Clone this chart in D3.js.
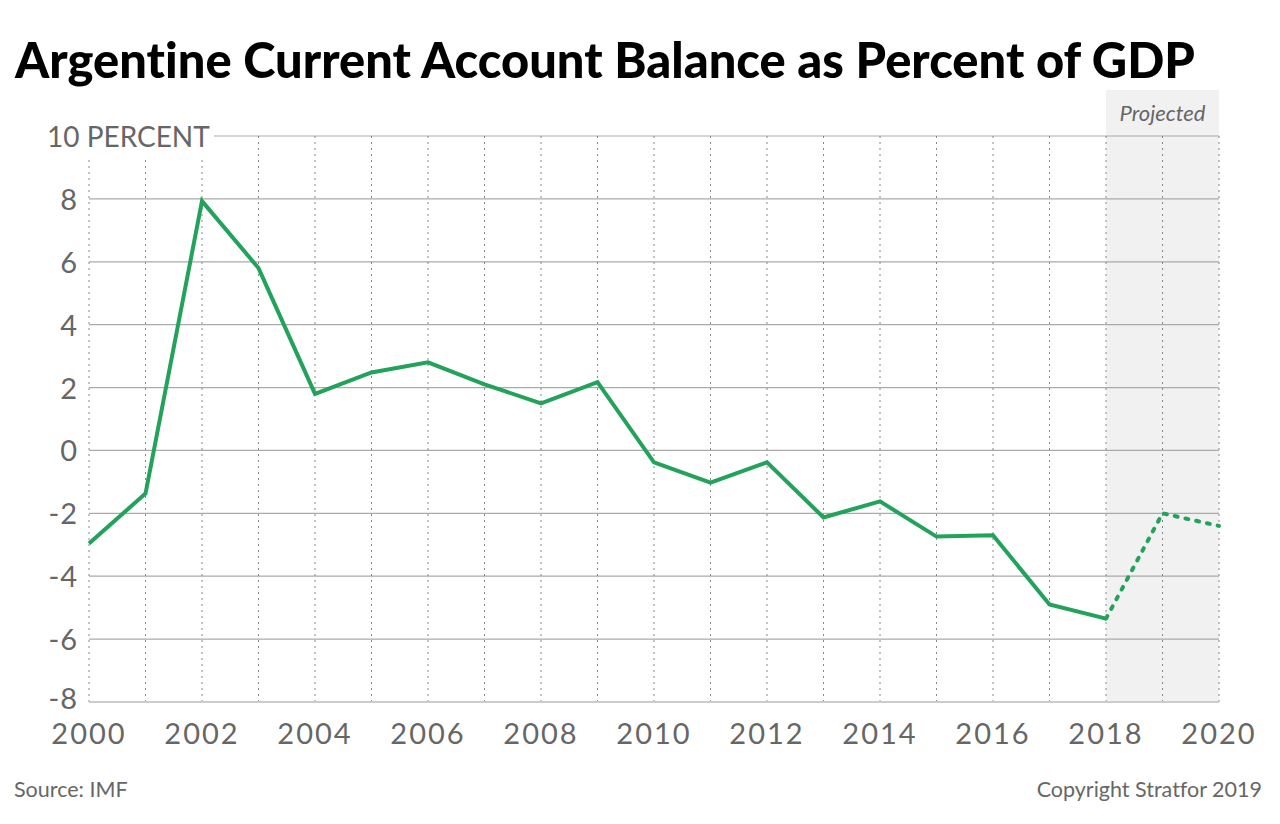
<!DOCTYPE html>
<html>
<head>
<meta charset="utf-8">
<script src="https://cdn.jsdelivr.net/npm/d3@7"></script>
<style>
  body { margin: 0; background: #fff; }
  svg { display: block; font-family: Lato, "Open Sans", sans-serif; font-variant-ligatures: none; }
</style>
</head>
<body>
<script>
// chart data
var years = [2000, 2001, 2002, 2003, 2004, 2005, 2006, 2007, 2008, 2009, 2010,
             2011, 2012, 2013, 2014, 2015, 2016, 2017, 2018, 2019, 2020];
var balance = [-2.96, -1.37, 7.93, 5.8, 1.8, 2.48, 2.8, 2.1, 1.5, 2.17, -0.38,
               -1.02, -0.38, -2.13, -1.62, -2.74, -2.7, -4.9, -5.35, -2.0, -2.4];
var projectedFrom = 2018;
var yTicks = [10, 8, 6, 4, 2, 0, -2, -4, -6, -8];
var xTickLabels = [2000, 2002, 2004, 2006, 2008, 2010, 2012, 2014, 2016, 2018, 2020];

drawChart();

function drawChart(){

    var width = 1280, height = 824;
    var plotLeft = 89, plotRight = 1219, plotTop = 136, plotBottom = 702;

    var svg = d3.select("body").append("svg")
        .attr("width", width)
        .attr("height", height);

    var x = d3.scaleLinear().domain([2000, 2020]).range([plotLeft, plotRight]);
    var y = d3.scaleLinear().domain([-8, 10]).range([plotBottom, plotTop]);

    var rows = years.map(function(yr, i){ return {year: yr, value: balance[i]}; });

    //projected shading
    svg.append("rect")
        .attr("x", x(projectedFrom))
        .attr("y", 90)
        .attr("width", x(2020) - x(projectedFrom))
        .attr("height", plotBottom - 90)
        .attr("fill", "#f1f1f1");

    svg.append("text")
        .attr("x", (x(projectedFrom) + x(2020)) / 2)
        .attr("y", 121)
        .attr("text-anchor", "middle")
        .attr("font-size", 22)
        .attr("font-style", "italic")
        .attr("fill", "#666")
        .text("Projected");

    //horizontal gridlines
    svg.selectAll(".hgrid")
        .data(yTicks.filter(function(d){ return d > -8; }))
        .enter()
        .append("line")
        .attr("class", "hgrid")
        .attr("x1", plotLeft)
        .attr("x2", plotRight)
        .attr("y1", function(d){ return y(d); })
        .attr("y2", function(d){ return y(d); })
        .attr("stroke", "#aaa")
        .attr("stroke-width", 1.2);

    //vertical dotted lines
    svg.selectAll(".vgrid")
        .data(years)
        .enter()
        .append("line")
        .attr("class", "vgrid")
        .attr("x1", function(d){ return x(d); })
        .attr("x2", function(d){ return x(d); })
        .attr("y1", plotTop)
        .attr("y2", plotBottom)
        .attr("stroke", "#888")
        .attr("stroke-width", 1)
        .attr("stroke-dasharray", "2,4");

    //baseline
    svg.append("line")
        .attr("x1", plotLeft)
        .attr("x2", plotRight)
        .attr("y1", y(-8))
        .attr("y2", y(-8))
        .attr("stroke", "#ccc")
        .attr("stroke-width", 2);

    //y labels, top one sits on a white patch
    svg.append("rect")
        .attr("x", 40).attr("y", 118)
        .attr("width", 174).attr("height", 42)
        .attr("fill", "#fff");

    svg.selectAll(".ylab")
        .data(yTicks)
        .enter()
        .append("text")
        .attr("class", "ylab")
        .attr("x", function(d){ return d === 10 ? 47 : 78; })
        .attr("y", function(d){ return y(d) + (d === -8 ? 7 : 11); })
        .attr("text-anchor", function(d){ return d === 10 ? "start" : "end"; })
        .attr("font-size", function(d){ return d === 10 ? 28 : 29; })
        .attr("letter-spacing", function(d){ return d === 10 ? 0 : 1; })
        .attr("fill", "#666")
        .text(function(d){ return d === 10 ? "10 PERCENT" : d; });

    //x labels
    svg.selectAll(".xlab")
        .data(xTickLabels)
        .enter()
        .append("text")
        .attr("class", "xlab")
        .attr("x", function(d){ return x(d); })
        .attr("y", 744)
        .attr("text-anchor", "middle")
        .attr("font-size", 29)
        .attr("letter-spacing", 2)
        .attr("fill", "#666")
        .text(function(d){ return d; });

    //line
    var line = d3.line()
        .x(function(d){ return x(d.year); })
        .y(function(d){ return y(d.value); });

    svg.append("path")
        .datum(rows.filter(function(d){ return d.year <= projectedFrom; }))
        .attr("d", line)
        .attr("fill", "none")
        .attr("stroke", "#22a25a")
        .attr("stroke-width", 4);

    svg.append("path")
        .datum(rows.filter(function(d){ return d.year >= projectedFrom; }))
        .attr("d", line)
        .attr("fill", "none")
        .attr("stroke", "#22a25a")
        .attr("stroke-width", 4)
        .attr("stroke-linecap", "round")
        .attr("stroke-dasharray", "3,8");

    //title
    svg.append("text")
        .attr("x", 15)
        .attr("y", 78)
        .attr("font-size", 50)
        .attr("font-weight", 900)
        .attr("fill", "#000")
        .attr("textLength", 1180)
        .attr("lengthAdjust", "spacingAndGlyphs")
        .text("Argentine Current Account Balance as Percent of GDP");

    //footer
    svg.append("text")
        .attr("x", 14)
        .attr("y", 797)
        .attr("font-size", 21.5)
        .attr("fill", "#666")
        .text("Source: IMF");

    svg.append("text")
        .attr("x", 1262)
        .attr("y", 797)
        .attr("text-anchor", "end")
        .attr("font-size", 21.5)
        .attr("fill", "#666")
        .text("Copyright Stratfor 2019");
}
</script>
</body>
</html>
